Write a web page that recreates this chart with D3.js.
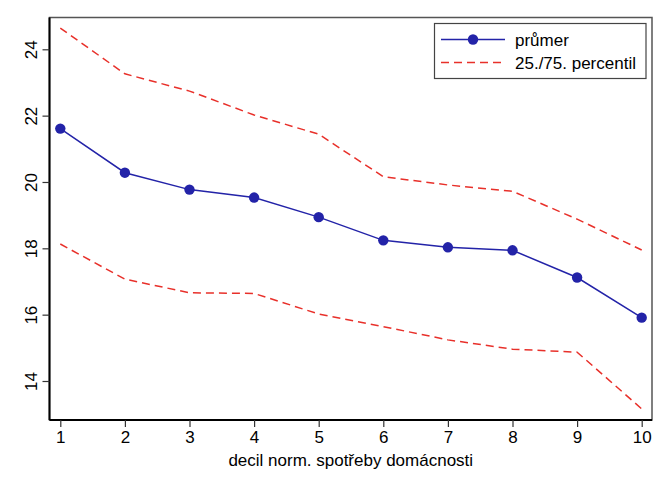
<!DOCTYPE html>
<html><head><meta charset="utf-8">
<script src="https://cdn.jsdelivr.net/npm/d3@7"></script>
<style>body{margin:0;background:#fff}svg{display:block}text{font-family:"Liberation Sans",Arial,sans-serif}</style>
</head><body>
<svg id="c" width="670" height="487"></svg>
<script>
const deciles = [1,2,3,4,5,6,7,8,9,10];
const mean = [21.61,20.28,19.77,19.53,18.94,18.24,18.03,17.94,17.12,15.91];
const p75 = [24.64,23.26,22.74,22.02,21.44,20.16,19.91,19.72,18.88,17.95];
const p25 = [18.13,17.07,16.66,16.64,16.02,15.64,15.24,14.96,14.87,13.16];
const yTicks = [14,16,18,20,22,24];
const xTitle = "decil norm. spotřeby domácnosti";
const legendLabels = ["průmer","25./75. percentil"];

const svg = d3.select("#c");
const L=49.5, T=17.5, R=652, B=420;
const x = d3.scaleLinear().domain([1,10]).range([60.3,641.7]);
const y = d3.scaleLinear().domain([14,24]).range([381,49.3]);
const blue="#2323a8", red="#e8302a";
const fs = 17;

// frame
svg.append("rect").attr("x",L).attr("y",T).attr("width",R-L).attr("height",B-T)
  .attr("fill","none").attr("stroke","#555").attr("stroke-width",1.5);

const line = d3.line().x((d,i)=>x(deciles[i])).y(d=>y(d));
[p75,p25].forEach(s=>svg.append("path").attr("d",line(s)).attr("fill","none")
  .attr("stroke",red).attr("stroke-width",1.5).attr("stroke-dasharray","8,5"));
svg.append("path").attr("d",line(mean)).attr("fill","none").attr("stroke",blue).attr("stroke-width",1.5);
svg.selectAll("circle.m").data(mean).enter().append("circle")
  .attr("cx",(d,i)=>x(deciles[i])).attr("cy",d=>y(d)).attr("r",5.2).attr("fill",blue);

// axes
const xAxis = svg.append("g").attr("transform",`translate(0,${B})`)
  .call(d3.axisBottom(x).tickValues(deciles).tickSize(7).tickPadding(4).tickFormat(d3.format("d")));
xAxis.select(".domain").attr("d",`M${L},0H${R}`).attr("stroke","#000").attr("stroke-width",2);
xAxis.selectAll(".tick line").attr("stroke","#333").attr("stroke-width",1.2);
xAxis.selectAll("text").attr("font-size",fs).attr("fill","#000");

const yAxis = svg.append("g").attr("transform",`translate(${L},0)`)
  .call(d3.axisLeft(y).tickValues(yTicks).tickSize(7).tickFormat(d3.format("d")));
yAxis.select(".domain").attr("d",`M0,${T}V${B}`).attr("stroke","#000").attr("stroke-width",2);
yAxis.selectAll(".tick line").attr("stroke","#333").attr("stroke-width",1.2);
yAxis.selectAll("text").attr("font-size",fs).attr("fill","#000")
  .attr("x",null).attr("dy",null).attr("text-anchor","middle")
  .attr("transform","translate(-12.5,0) rotate(-90)");

svg.append("text").attr("x",(L+R)/2).attr("y",466).attr("text-anchor","middle")
  .attr("font-size",fs).attr("fill","#000").text(xTitle);

// legend
const lg = svg.append("g");
lg.append("rect").attr("x",434.5).attr("y",23.5).attr("width",211.5).attr("height",55)
  .attr("fill","#fff").attr("stroke","#444").attr("stroke-width",1.2);
lg.append("line").attr("x1",441).attr("x2",505).attr("y1",39.5).attr("y2",39.5).attr("stroke",blue).attr("stroke-width",1.5);
lg.append("circle").attr("cx",473).attr("cy",39.5).attr("r",5.2).attr("fill",blue);
lg.append("line").attr("x1",441).attr("x2",505).attr("y1",62.5).attr("y2",62.5).attr("stroke",red).attr("stroke-width",1.5).attr("stroke-dasharray","8,5");
lg.selectAll("text.l").data(legendLabels).enter().append("text")
  .attr("x",515).attr("y",(d,i)=>45.5+i*23).attr("font-size",fs).attr("fill","#000").text(d=>d);
</script>
</body></html>
